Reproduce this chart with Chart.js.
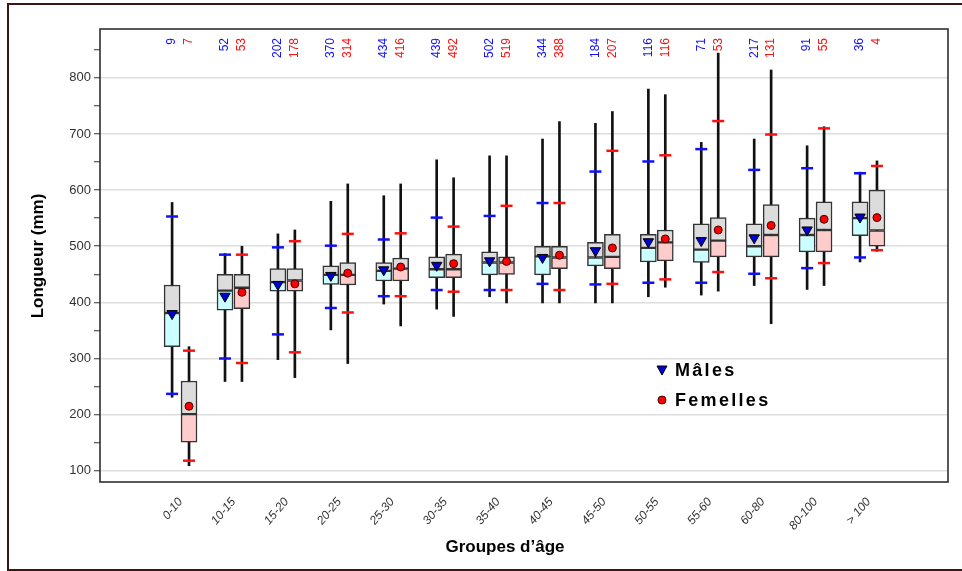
<!DOCTYPE html>
<html>
<head>
<meta charset="utf-8">
<script src="https://cdn.jsdelivr.net/npm/chart.js@4.4.1/dist/chart.umd.min.js"></script>
<style>
  html, body { margin: 0; padding: 0; background: #fff; overflow: hidden; }
  #wrap { position: relative; width: 962px; height: 571px; }
  #wrap canvas { position: absolute; left: 0; top: 0; }
  #frame { position: absolute; left: 7px; top: 3px; width: 990px; height: 568px;
           border: 2px solid #3a1616; border-right: none; box-sizing: border-box; pointer-events: none; }
</style>
</head>
<body>
<div id="wrap">
  <canvas id="chart" width="962" height="571"></canvas>
  <div id="frame"></div>
</div>
<script>
// Longueur par groupe d'âge, boîtes à moustaches mâles / femelles
const groups = ['0-10', '10-15', '15-20', '20-25', '25-30', '30-35', '35-40',
                '40-45', '45-50', '50-55', '55-60', '60-80', '80-100', '> 100'];

const nMales    = [9, 52, 202, 370, 434, 439, 502, 344, 184, 116, 71, 217, 91, 36];
const nFemelles = [7, 53, 178, 314, 416, 492, 519, 388, 207, 116, 53, 131, 55, 4];

// mâles
const mMin  = [231, 259, 298, 351, 397, 388, 410, 399, 399, 410, 413, 430, 423, 472];
const mP05  = [237, 300, 343, 390, 411, 422, 422, 433, 432, 435, 435, 451, 461, 480];
const mQ1   = [321, 386, 420, 432, 438, 444, 449, 449, 465, 472, 471, 481, 490, 519];
const mMed  = [381, 421, 436, 449, 456, 459, 471, 482, 480, 497, 494, 500, 520, 550];
const mQ3   = [431, 450, 460, 465, 471, 481, 490, 500, 507, 521, 540, 540, 550, 579];
const mP95  = [553, 485, 498, 501, 512, 551, 554, 577, 633, 651, 673, 636, 639, 630];
const mMax  = [578, 487, 522, 580, 590, 654, 661, 691, 719, 780, 685, 691, 679, 632];
const mMean = [380, 411, 432, 448, 458, 466, 474, 480, 492, 508, 510, 515, 529, 552];

// femelles
const fMin  = [109, 259, 266, 291, 358, 375, 399, 399, 399, 427, 420, 362, 430, 491];
const fP05  = [118, 292, 311, 382, 411, 419, 422, 422, 433, 441, 454, 443, 470, 493];
const fQ1   = [151, 389, 420, 431, 438, 444, 450, 460, 460, 474, 481, 481, 490, 500];
const fMed  = [201, 426, 439, 449, 460, 459, 471, 480, 481, 507, 510, 520, 529, 528];
const fQ3   = [260, 450, 460, 471, 479, 486, 481, 500, 521, 529, 551, 574, 579, 600];
const fP95  = [314, 485, 509, 522, 523, 535, 572, 577, 670, 662, 723, 699, 710, 643];
const fMax  = [321, 500, 529, 611, 611, 622, 661, 722, 740, 770, 844, 814, 713, 652];
const fMean = [215, 418, 433, 452, 463, 469, 473, 484, 497, 513, 529, 537, 548, 551];

const yTicks = [100, 150, 200, 250, 300, 350, 400, 450, 500, 550, 600, 650, 700, 750, 800, 850];

const OFF = 0.16;             // décalage mâles (-) / femelles (+) autour du groupe
const FONT = '"Liberation Sans", Arial, sans-serif';
const BLUE = '#1010ff';
const RED = '#ff1010';

const span = (lo, hi, side) => groups.map((_, i) => ({ x: i + side * OFF, y: [lo[i], hi[i]] }));
const pts = (vals, side) => groups.map((_, i) => ({ x: i + side * OFF, y: vals[i] }));

function whisker(lo, hi, side) {
  return { type: 'bar', data: span(lo, hi, side), backgroundColor: '#111', borderWidth: 0,
           barThickness: 2, grouped: false, order: 5 };
}
function box(lo, hi, side, fill) {
  return { type: 'bar', data: span(lo, hi, side), backgroundColor: fill, borderColor: '#333',
           borderWidth: 1.5, borderSkipped: false, barThickness: 16, grouped: false, order: 3 };
}
function pctTick(vals, side, col) {
  return { type: 'scatter', data: pts(vals, side), pointStyle: 'line', radius: 6,
           borderColor: col, borderWidth: 2.5, order: 2 };
}

const datasets = [
  whisker(mMin, mMax, -1),
  whisker(fMin, fMax, 1),
  box(mQ1, mMed, -1, '#ccffff'),
  box(mMed, mQ3, -1, '#dcdcdc'),
  box(fQ1, fMed, 1, '#ffcccc'),
  box(fMed, fQ3, 1, '#dcdcdc'),
  pctTick(mP05, -1, BLUE), pctTick(mP95, -1, BLUE),
  pctTick(fP05, 1, RED), pctTick(fP95, 1, RED),
  { type: 'scatter', label: 'Mâles', data: pts(mMean, -1), pointStyle: 'triangle', rotation: 180,
    radius: 6, backgroundColor: '#0000d0', borderColor: '#000', borderWidth: 1, order: 1 },
  { type: 'scatter', label: 'Femelles', data: pts(fMean, 1), pointStyle: 'circle',
    radius: 4, backgroundColor: '#ff0000', borderColor: '#400', borderWidth: 1, order: 1 },
];

// cadre, effectifs, légende et titres d'axes
const decor = {
  id: 'decor',
  afterDraw(chart) {
    const { ctx, chartArea: a, scales: { x } } = chart;
    ctx.save();
    ctx.strokeStyle = '#222';
    ctx.lineWidth = 1.5;
    ctx.strokeRect(a.left, a.top, a.right - a.left, a.bottom - a.top);

    ctx.font = '12px ' + FONT;
    ctx.textAlign = 'right';
    ctx.textBaseline = 'middle';
    groups.forEach((_, i) => {
      [[nMales[i], -1, BLUE], [nFemelles[i], 1, RED]].forEach(([n, side, col]) => {
        ctx.save();
        ctx.translate(x.getPixelForValue(i + side * OFF), a.top + 9);
        ctx.rotate(-Math.PI / 2);
        ctx.fillStyle = col;
        ctx.fillText(String(n), 0, 0);
        ctx.restore();
      });
    });

    // légende
    ctx.fillStyle = '#0000d0';
    ctx.strokeStyle = '#000';
    ctx.lineWidth = 1;
    ctx.beginPath();
    ctx.moveTo(657, 366); ctx.lineTo(667, 366); ctx.lineTo(662, 375); ctx.closePath();
    ctx.fill(); ctx.stroke();
    ctx.fillStyle = '#ff0000';
    ctx.strokeStyle = '#400';
    ctx.beginPath(); ctx.arc(662, 400, 4, 0, Math.PI * 2); ctx.fill(); ctx.stroke();

    ctx.fillStyle = '#000';
    ctx.font = 'bold 18px ' + FONT;
    ctx.textAlign = 'left';
    const spaced = (text, px, py, sp) => {
      for (const ch of text) { ctx.fillText(ch, px, py); px += ctx.measureText(ch).width + sp; }
    };
    spaced('Mâles', 675, 371, 2.3);
    spaced('Femelles', 675, 401, 2.3);

    ctx.font = 'bold 17px ' + FONT;
    ctx.textAlign = 'center';
    ctx.fillText('Groupes d’âge', 505, 547);
    ctx.translate(38, 256);
    ctx.rotate(-Math.PI / 2);
    ctx.fillText('Longueur (mm)', 0, 0);
    ctx.restore();
  }
};

new Chart(document.getElementById('chart'), {
  type: 'bar',
  data: { datasets },
  plugins: [decor],
  options: {
    responsive: false,
    animation: false,
    events: [],
    layout: { padding: { left: 8, top: 29, right: 14, bottom: 0 } },
    plugins: { legend: { display: false }, tooltip: { enabled: false } },
    scales: {
      x: {
        type: 'linear',
        min: -0.95,
        max: 13.93,
        afterFit: (s) => { s.height = 89; },
        afterBuildTicks: (s) => { s.ticks = groups.map((_, i) => ({ value: i })); },
        grid: { display: false },
        border: { display: false },
        ticks: {
          autoSkip: false,
          minRotation: 50,
          maxRotation: 50,
          padding: 5,
          color: '#333',
          font: { family: FONT, size: 12, style: 'italic' },
          callback: (v) => groups[v] ?? '',
        },
      },
      y: {
        min: 80,
        max: 887,
        afterFit: (s) => { s.width = 92; },
        afterBuildTicks: (s) => { s.ticks = yTicks.map((v) => ({ value: v })); },
        border: { display: false },
        grid: {
          color: (c) => (c.tick && c.tick.value % 100 === 0 ? '#dedede' : 'rgba(0,0,0,0)'),
          lineWidth: 1.5,
          tickColor: '#333',
          tickLength: 6,
          tickWidth: 1,
        },
        ticks: {
          padding: 3,
          color: '#333',
          font: { family: FONT, size: 13 },
          callback: (v) => (v % 100 === 0 ? v : ''),
        },
      },
    },
  },
});
</script>
</body>
</html>
